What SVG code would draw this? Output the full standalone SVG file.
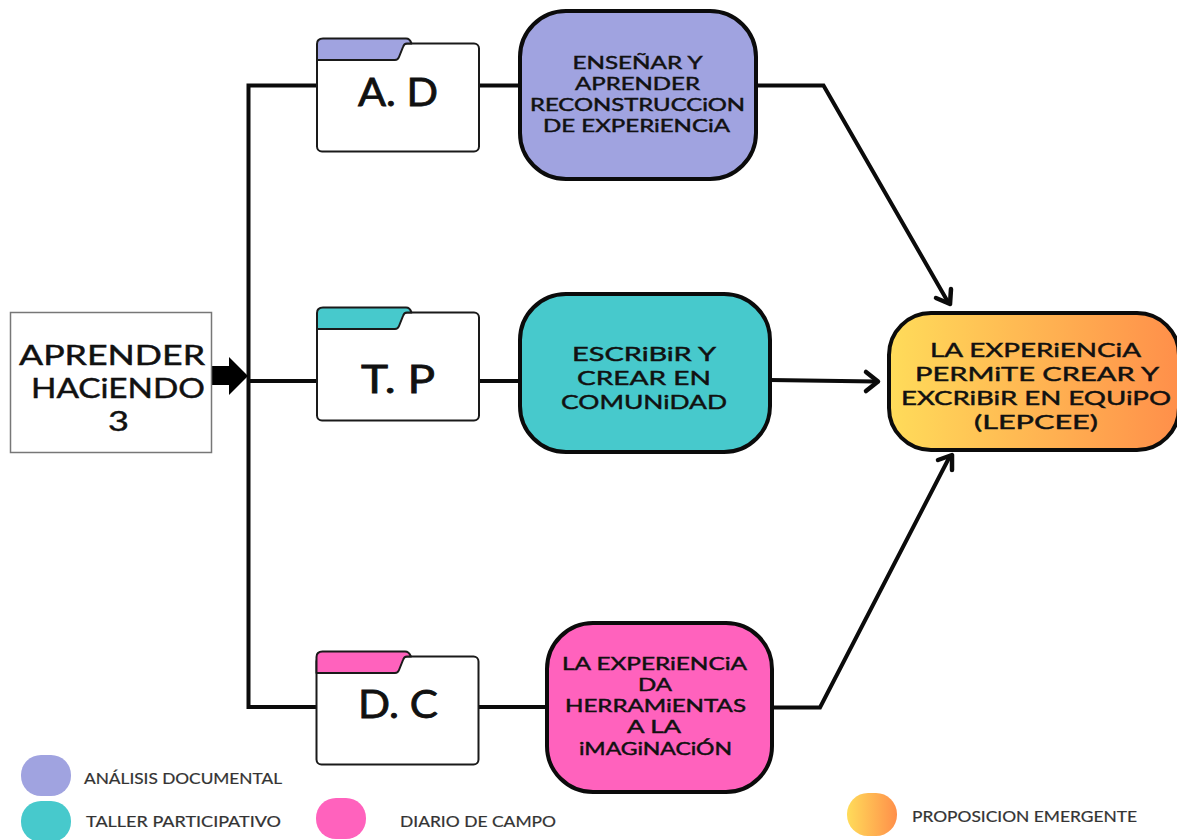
<svg xmlns="http://www.w3.org/2000/svg" width="1177" height="840" viewBox="0 0 1177 840">
<style>
text{font-family:"Lato","Liberation Sans",sans-serif;fill:#111;text-anchor:middle;stroke:#111;stroke-width:.45}
.b{font-size:17.5px}
.m{font-size:20px}
.f{font-size:38px;stroke-width:.8}
.s{font-size:27px}
.l{font-size:15px;fill:#333;stroke:#333;stroke-width:.2}
.box{stroke:#0b0b0b;stroke-width:4}
.body{fill:#fff;stroke:#1a1a1a;stroke-width:2}
.tab{stroke:#1a1a1a;stroke-width:2;stroke-linejoin:round}
.c{fill:none;stroke:#0b0b0b;stroke-width:4;stroke-linejoin:miter}
.h{fill:none;stroke:#0b0b0b;stroke-width:4.5;stroke-linecap:round;stroke-linejoin:round}
.pu{fill:#A0A3E0}.te{fill:#47C9CC}.pi{fill:#FF62BD}.or{fill:url(#g)}
</style>
<defs>
<linearGradient id="g" x1="0" y1="0" x2="1" y2="0"><stop offset="0" stop-color="#FFDC5A"/><stop offset="1" stop-color="#FF8F4A"/></linearGradient>
</defs>
<rect width="1177" height="840" fill="#fff"/>
<g id="connectors">
<path class="c" d="M317 85.500H248.500V707H317M248.500 381H317"/>
<path class="c" d="M479 85.500H520M479 381H520M478 707H547"/>
<path class="c" d="M756 85.500H823.500L948 302"/>
<path class="h" d="M936 298L950 304L951 289"/>
<path class="c" d="M770 380L876 381.500"/>
<path class="h" d="M866 372L878 381.500L866 391"/>
<path class="c" d="M772 707.500H820L950 456"/>
<path class="h" d="M938 460L952 455L952 470"/>
<path d="M210 366H229V357L248 376L229 395V385H210Z" fill="#000"/>
</g>
<g id="start">
<rect x="10.500" y="312.500" width="201" height="140" fill="#fff" stroke="#777" stroke-width="1.500"/>
<text class="s" x="112" y="365" textLength="186" lengthAdjust="spacingAndGlyphs">APRENDER</text>
<text class="s" x="118" y="398" textLength="174" lengthAdjust="spacingAndGlyphs">HACiENDO</text>
<text class="s" x="118.500" y="431" textLength="21" lengthAdjust="spacingAndGlyphs">3</text>
</g>
<g id="folder-ad">
<rect class="body" x="317" y="43.500" width="162" height="108" rx="5"/>
<path class="tab pu" d="M317 60V44Q317 38.500 323 38.500H406Q410 38.500 411.500 43.500H407Q404 43.500 403 47L399 57Q398 60 395 60Z"/>
<text class="f" x="398" y="106" textLength="80" lengthAdjust="spacingAndGlyphs">A. D</text>
</g>
<g id="folder-tp">
<rect class="body" x="317" y="312.500" width="162" height="108" rx="5"/>
<path class="tab te" d="M317 329V313Q317 307.500 323 307.500H406Q410 307.500 411.500 312.500H407Q404 312.500 403 316L399 326Q398 329 395 329Z"/>
<text class="f" x="398" y="393" textLength="74" lengthAdjust="spacingAndGlyphs">T. P</text>
</g>
<g id="folder-dc">
<rect class="body" x="316.500" y="656.500" width="162" height="108" rx="5"/>
<path class="tab pi" d="M316.500 673V657Q316.500 651.500 322.500 651.500H405Q409 651.500 411 656.500H407Q404 656.500 403 660L399 670Q398 673 395 673Z"/>
<text class="f" x="398" y="718" textLength="80" lengthAdjust="spacingAndGlyphs">D. C</text>
</g>
<g id="box-ad">
<rect class="box pu" x="520" y="11" width="236" height="168" rx="46"/>
<text class="b" x="637.500" y="69" textLength="130" lengthAdjust="spacingAndGlyphs">ENSEÑAR Y</text>
<text class="b" x="637.500" y="90" textLength="125" lengthAdjust="spacingAndGlyphs">APRENDER</text>
<text class="b" x="637.500" y="111" textLength="215" lengthAdjust="spacingAndGlyphs">RECONSTRUCCiON</text>
<text class="b" x="636.500" y="132" textLength="187" lengthAdjust="spacingAndGlyphs">DE EXPERiENCiA</text>
</g>
<g id="box-tp">
<rect class="box te" x="520" y="294" width="250" height="158" rx="46"/>
<text class="m" x="644" y="361" textLength="144" lengthAdjust="spacingAndGlyphs">ESCRiBiR Y</text>
<text class="m" x="644" y="385" textLength="134" lengthAdjust="spacingAndGlyphs">CREAR EN</text>
<text class="m" x="644" y="409" textLength="166" lengthAdjust="spacingAndGlyphs">COMUNiDAD</text>
</g>
<g id="box-dc">
<rect class="box pi" x="547" y="623" width="225" height="169" rx="46"/>
<text class="b" x="654.500" y="670" textLength="185" lengthAdjust="spacingAndGlyphs">LA EXPERiENCiA</text>
<text class="b" x="655" y="691" textLength="34" lengthAdjust="spacingAndGlyphs">DA</text>
<text class="b" x="655.500" y="712" textLength="181" lengthAdjust="spacingAndGlyphs">HERRAMiENTAS</text>
<text class="b" x="654" y="733" textLength="54" lengthAdjust="spacingAndGlyphs">A LA</text>
<text class="b" x="655.500" y="755" textLength="153" lengthAdjust="spacingAndGlyphs">iMAGiNACiÓN</text>
</g>
<g id="box-result">
<rect class="box or" x="889" y="313" width="290" height="137" rx="42"/>
<text class="m" x="1035.500" y="357" textLength="211" lengthAdjust="spacingAndGlyphs">LA EXPERiENCiA</text>
<text class="m" x="1037" y="381" textLength="244" lengthAdjust="spacingAndGlyphs">PERMiTE CREAR Y</text>
<text class="m" x="1036" y="405" textLength="270" lengthAdjust="spacingAndGlyphs">EXCRiBiR EN EQUiPO</text>
<text class="m" x="1036" y="429" textLength="124" lengthAdjust="spacingAndGlyphs">(LEPCEE)</text>
</g>
<g id="legend">
<rect class="pu" x="21" y="755" width="50" height="41" rx="20"/>
<rect class="te" x="21" y="801" width="50" height="41" rx="20"/>
<rect class="pi" x="316" y="798" width="50" height="41" rx="20"/>
<rect class="or" x="847" y="793" width="50" height="43" rx="21"/>
<text class="l" x="183" y="784" textLength="198" lengthAdjust="spacingAndGlyphs">ANÁLISIS DOCUMENTAL</text>
<text class="l" x="183.500" y="827" textLength="195" lengthAdjust="spacingAndGlyphs">TALLER PARTICIPATIVO</text>
<text class="l" x="478" y="827" textLength="156" lengthAdjust="spacingAndGlyphs">DIARIO DE CAMPO</text>
<text class="l" x="1024.500" y="822" textLength="225" lengthAdjust="spacingAndGlyphs">PROPOSICION EMERGENTE</text>
</g>
</svg>
